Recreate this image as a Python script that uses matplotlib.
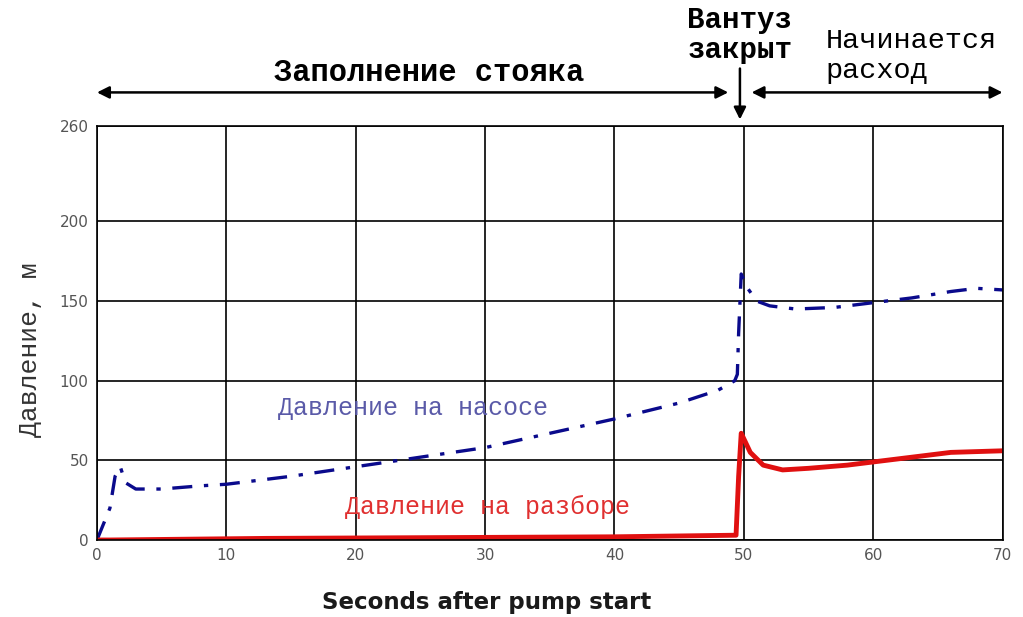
"""
Pump start transient: pressure at pump and at draw-off point
"""

import matplotlib
matplotlib.use('Agg')
import matplotlib.pyplot as plt

# DATA

t_pump = [0, 1.0, 1.4, 1.8, 2.2, 3, 5, 8, 10, 15, 20, 25, 30, 35, 40,
          45, 48, 49.3, 49.5, 49.6, 49.8, 50.3, 51, 52, 54, 57, 60, 63,
          66, 68, 70]
p_pump = [0, 20, 40, 46, 36, 32, 32, 34, 35, 40, 46, 52, 58, 67, 76,
          86, 94, 100, 104, 130, 167, 158, 150, 147, 145, 146, 149, 152,
          156, 158, 157]

t_tap = [0, 1, 13, 40, 49.4, 49.6, 49.8, 50.5, 51.5, 53, 55, 58, 60,
         63, 66, 70]
p_tap = [0, 0, 1, 2, 3, 40, 67, 55, 47, 44, 45, 47, 49, 52, 55, 56]

x_ticks = [0, 10, 20, 30, 40, 50, 60, 70]
y_ticks = [0, 50, 100, 150, 200, 260]

MONO = 'Liberation Mono'

# PLOT

fig = plt.figure(figsize=(10.23, 6.17), dpi=100)
ax = fig.add_axes([0.0948, 0.1248, 0.8852, 0.6712])

ax.plot(t_pump, p_pump, color='#0a0a8c', linewidth=2.4,
        linestyle=(0, (6, 3.5, 1.3, 3.5)))
ax.plot(t_tap, p_tap, color='#e01010', linewidth=3.5)

ax.set_xlim(0, 70)
ax.set_ylim(0, 260)
ax.set_xticks(x_ticks)
ax.set_yticks(y_ticks)
ax.tick_params(length=0, labelsize=11, labelcolor='#555555', pad=6)
ax.grid(True, color='black', linewidth=1.2)
for s in ax.spines.values():
    s.set_color('black')
    s.set_linewidth(1.2)

ax.set_xlabel('Seconds after pump start', fontsize=16.5, fontweight='bold',
              family='DejaVu Sans', color='#1a1a1a')
ax.xaxis.set_label_coords(0.43, -0.122)
ax.set_ylabel('Давление, м', fontsize=19, family=MONO, color='#333333')
ax.yaxis.set_label_coords(-0.061, 0.46)

# curve labels
ax.text(24.4, 83, 'Давление на насосе', family=MONO, fontsize=18,
        color='#5a5aa8', ha='center', va='center')
ax.text(30.2, 21, 'Давление на разборе', family=MONO, fontsize=18,
        color='#e03030', ha='center', va='center')

# annotations above the plot
arrow = dict(arrowstyle='<|-|>', color='black', lw=1.8,
             mutation_scale=18, shrinkA=0, shrinkB=0)
ax.annotate('', xy=(0, 281), xytext=(48.8, 281), arrowprops=arrow,
            annotation_clip=False)
ax.annotate('', xy=(50.6, 281), xytext=(70, 281), arrowprops=arrow,
            annotation_clip=False)
ax.annotate('', xy=(49.7, 264), xytext=(49.7, 296),
            arrowprops=dict(arrowstyle='-|>', color='black', lw=1.8,
                            mutation_scale=18, shrinkA=0, shrinkB=0),
            annotation_clip=False)

ax.text(25.7, 293, 'Заполнение стояка', family=MONO, fontsize=22,
        fontweight='bold', ha='center', va='center')
ax.text(49.7, 317, 'Вантуз\nзакрыт', family=MONO, fontsize=21,
        fontweight='bold', ha='center', va='center', linespacing=1.1)
ax.text(56.3, 304, 'Начинается\nрасход', family=MONO, fontsize=20.5,
        ha='left', va='center', linespacing=1.2)

fig.savefig('out.png', dpi=100)
